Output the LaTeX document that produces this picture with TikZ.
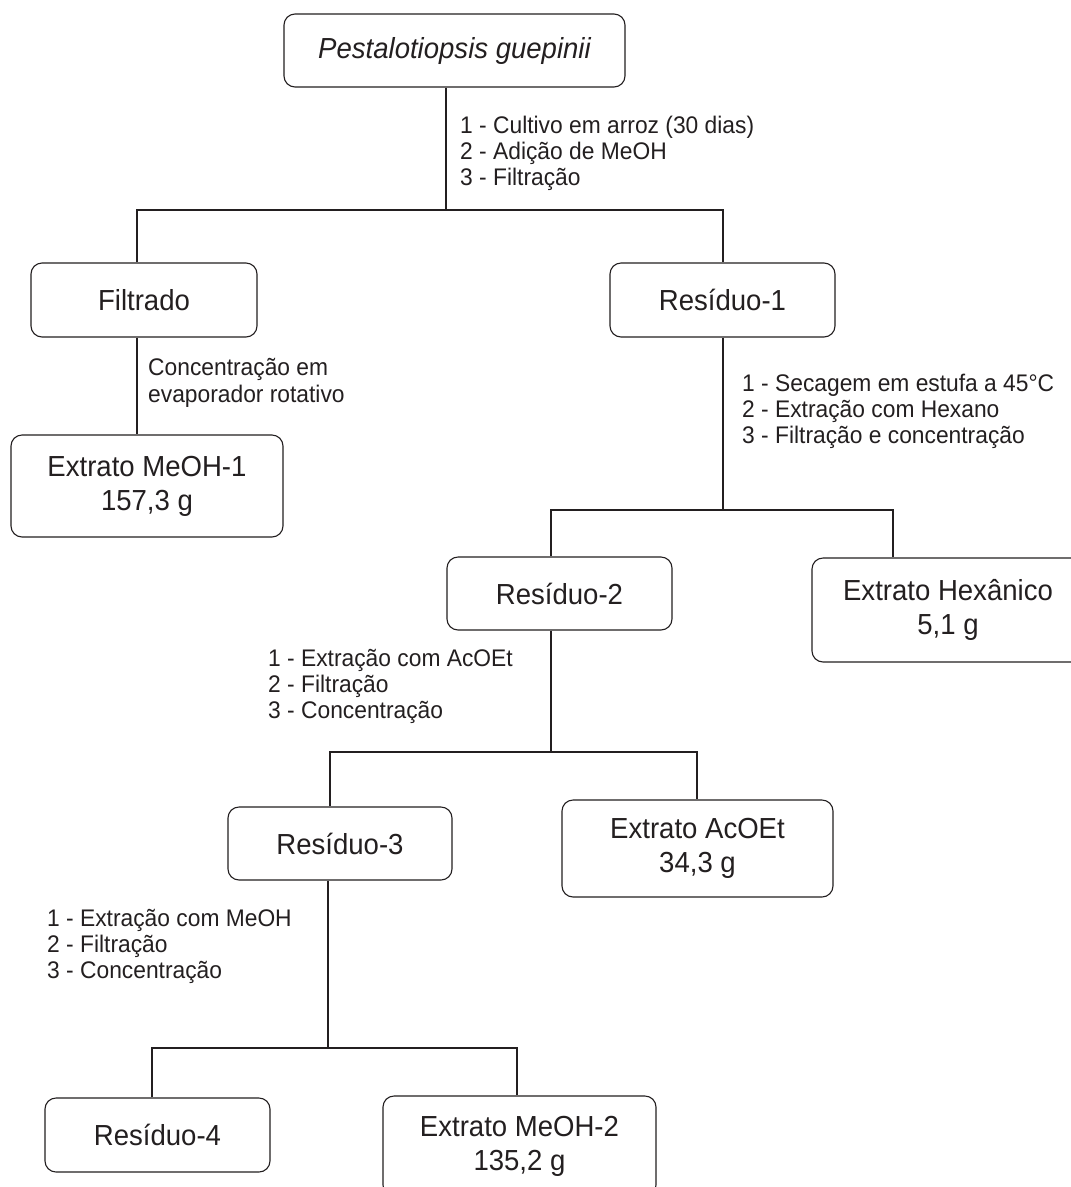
\documentclass[tikz,border=0pt]{standalone}
\usepackage{fontspec}
\setmainfont{Liberation Sans}[FakeStretch=0.95]
\definecolor{ink}{HTML}{231F20}
\begin{document}
\begin{tikzpicture}[x=1pt,y=-1pt,
  box/.style={draw=ink, line width=1.1pt, rounded corners=11pt, align=center, inner sep=0pt, text=ink, font=\fontsize{29}{34}\selectfont},
  lbl/.style={anchor=west, align=left, inner sep=0pt, text=ink, font=\fontsize{24}{26}\selectfont},
  link/.style={draw=ink, line width=1.2pt}]
\useasboundingbox (0,0) rectangle (1071,1187);
\clip (0,0) rectangle (1071,1187);
\fill[white] (0,0) rectangle (1071,1187);

% boxes
\node[box, minimum width=341pt, minimum height=73pt] (top) at (454.5,50.5) {\itshape Pestalotiopsis guepinii};
\node[box, minimum width=226pt, minimum height=74pt] (filtrado) at (144,300) {Filtrado};
\node[box, minimum width=272pt, minimum height=102pt] (meoh1) at (147,486) {Extrato MeOH-1\\157,3 g};
\node[box, minimum width=225pt, minimum height=74pt] (res1) at (722.5,300) {Resíduo-1};
\node[box, minimum width=225pt, minimum height=73pt] (res2) at (559.5,593.5) {Resíduo-2};
\node[box, minimum width=272pt, minimum height=104pt] (hex) at (948,610) {Extrato Hexânico\\5,1 g};
\node[box, minimum width=224pt, minimum height=73pt] (res3) at (340,843.5) {Resíduo-3};
\node[box, minimum width=271pt, minimum height=97pt] (acoet) at (697.5,848.5) {Extrato AcOEt\\34,3 g};
\node[box, minimum width=225pt, minimum height=74pt] (res4) at (157.5,1135) {Resíduo-4};
\node[box, minimum width=273pt, minimum height=100pt] (meoh2) at (519.5,1146) {Extrato MeOH-2\\135,2 g};

% labels
\node[lbl] (l1) at (460,153) {1 - Cultivo em arroz (30 dias)\\2 - Adição de MeOH\\3 - Filtração};
\node[lbl, font=\fontsize{24}{27}\selectfont] (l2) at (148,383) {Concentração em\\evaporador rotativo};
\node[lbl] (l3) at (742,411) {1 - Secagem em estufa a 45°C\\2 - Extração com Hexano\\3 - Filtração e concentração};
\node[lbl] (l4) at (268,686) {1 - Extração com AcOEt\\2 - Filtração\\3 - Concentração};
\node[lbl] (l5) at (47,946) {1 - Extração com MeOH\\2 - Filtração\\3 - Concentração};

% junctions
\coordinate (j1) at (446,210);
\coordinate (h1l) at (137,210);
\coordinate (h1r) at (723,210);
\coordinate (j2) at (723,510);
\coordinate (h2l) at (551,510);
\coordinate (h2r) at (893,510);
\coordinate (j3) at (551,752);
\coordinate (h3l) at (330,752);
\coordinate (h3r) at (697,752);
\coordinate (j4) at (328,1048);
\coordinate (h4l) at (152,1048);
\coordinate (h4r) at (517,1048);

% connectors
\draw[link] (j1 |- top.south) -- (j1);
\draw[link] (h1l |- filtrado.north) -- (h1l) -- (h1r) -- (h1r |- res1.north);
\draw[link] (h1l |- filtrado.south) -- (h1l |- meoh1.north);
\draw[link] (j2 |- res1.south) -- (j2);
\draw[link] (h2l |- res2.north) -- (h2l) -- (h2r) -- (h2r |- hex.north);
\draw[link] (j3 |- res2.south) -- (j3);
\draw[link] (h3l |- res3.north) -- (h3l) -- (h3r) -- (h3r |- acoet.north);
\draw[link] (j4 |- res3.south) -- (j4);
\draw[link] (h4l |- res4.north) -- (h4l) -- (h4r) -- (h4r |- meoh2.north);
\end{tikzpicture}
\end{document}
